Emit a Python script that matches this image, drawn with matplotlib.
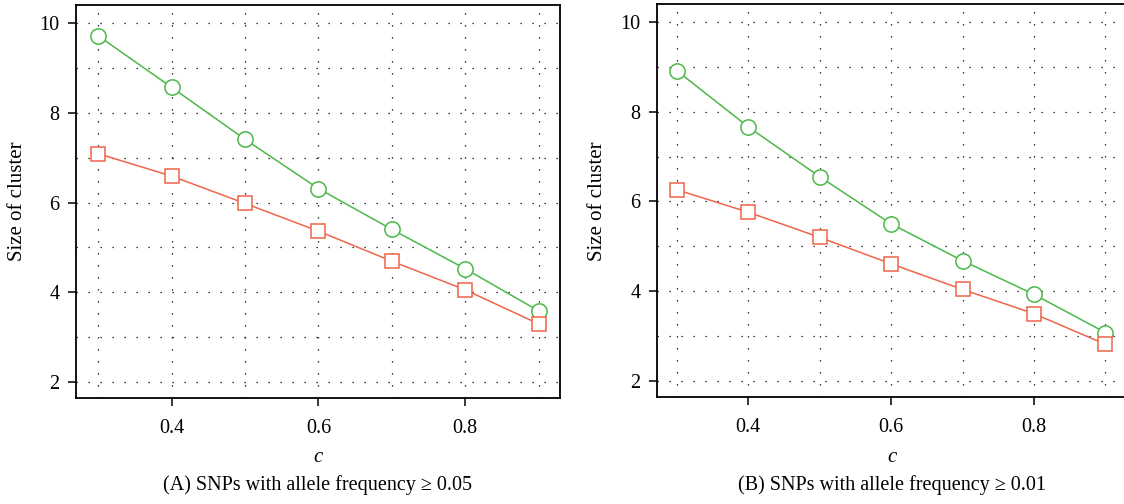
import matplotlib
matplotlib.use("Agg")
import matplotlib.pyplot as plt
from matplotlib.ticker import MultipleLocator

plt.rcParams['font.family'] = ['Liberation Serif', 'DejaVu Serif']

# c values shared by both panels
c_vals = [0.3, 0.4, 0.5, 0.6, 0.7, 0.8, 0.9]

# (A) allele frequency >= 0.05
a_circle = [9.72, 8.57, 7.41, 6.31, 5.40, 4.52, 3.58]
a_square = [7.09, 6.59, 5.98, 5.36, 4.69, 4.05, 3.29]

# (B) allele frequency >= 0.01
b_circle = [8.91, 7.66, 6.55, 5.50, 4.68, 3.93, 3.08]
b_square = [6.26, 5.76, 5.20, 4.61, 4.04, 3.50, 2.82]

titles = ["(A) SNPs with allele frequency \u2265 0.05",
          "(B) SNPs with allele frequency \u2265 0.01"]
y_label = "Size of cluster"
x_label = "c"

green = "#4cb848"
red = "#ef654a"

W, H = 1124, 504
fig = plt.figure(figsize=(W / 100, H / 100), dpi=100)
ax_a = fig.add_axes([0.0676, 0.2103, 0.4306, 0.7798])
ax_b = fig.add_axes([0.5845, 0.2123, 0.4173, 0.7790])


def draw_panel(ax, circ, sq, title, xlim, ylim, ylab_x):
    ax.plot(c_vals, circ, color=green, lw=1.1, marker='o', ms=11,
            mfc='white', mec=green, mew=1.1, zorder=3)
    ax.plot(c_vals, sq, color=red, lw=1.1, marker='s', ms=10,
            mfc='white', mec=red, mew=1.1, zorder=3)
    ax.set_xlim(*xlim)
    ax.set_ylim(*ylim)
    ax.xaxis.set_minor_locator(MultipleLocator(0.1))
    ax.yaxis.set_major_locator(MultipleLocator(2))
    ax.yaxis.set_minor_locator(MultipleLocator(1))
    ax.set_xticks([0.4, 0.6, 0.8])
    ax.set_xticklabels(["0.4", "0.6", "0.8"])
    ax.grid(True, which='both', color='black', lw=0.9,
            linestyle=(0, (1, 8.6)))
    ax.set_axisbelow(True)
    ax.tick_params(which='major', direction='out', length=5.8, width=1.1,
                   labelsize=14.5)
    ax.tick_params(axis='x', pad=9.5)
    ax.tick_params(axis='y', pad=6)
    ax.tick_params(which='minor', length=0)
    for s in ax.spines.values():
        s.set_linewidth(1.3)

    # axis labels and panel caption placed in pixel terms of the figure
    bbox = ax.get_position()
    cx = (bbox.x0 + bbox.x1) / 2
    fig.text(ylab_x / W, (bbox.y0 + bbox.y1) / 2, y_label, rotation=90,
             ha='center', va='center', fontsize=15)
    fig.text(cx, 1 - 457 / H, x_label, style='italic', ha='center',
             va='center', fontsize=15)
    fig.text(cx, 1 - 485 / H, title, ha='center', va='center', fontsize=14.5)


draw_panel(ax_a, a_circle, a_square, titles[0], (0.2696, 0.929), (1.636, 10.41), 18)
draw_panel(ax_b, b_circle, b_square, titles[1], (0.272, 0.929), (1.644, 10.39), 598)

fig.savefig("out.png", dpi=100)
